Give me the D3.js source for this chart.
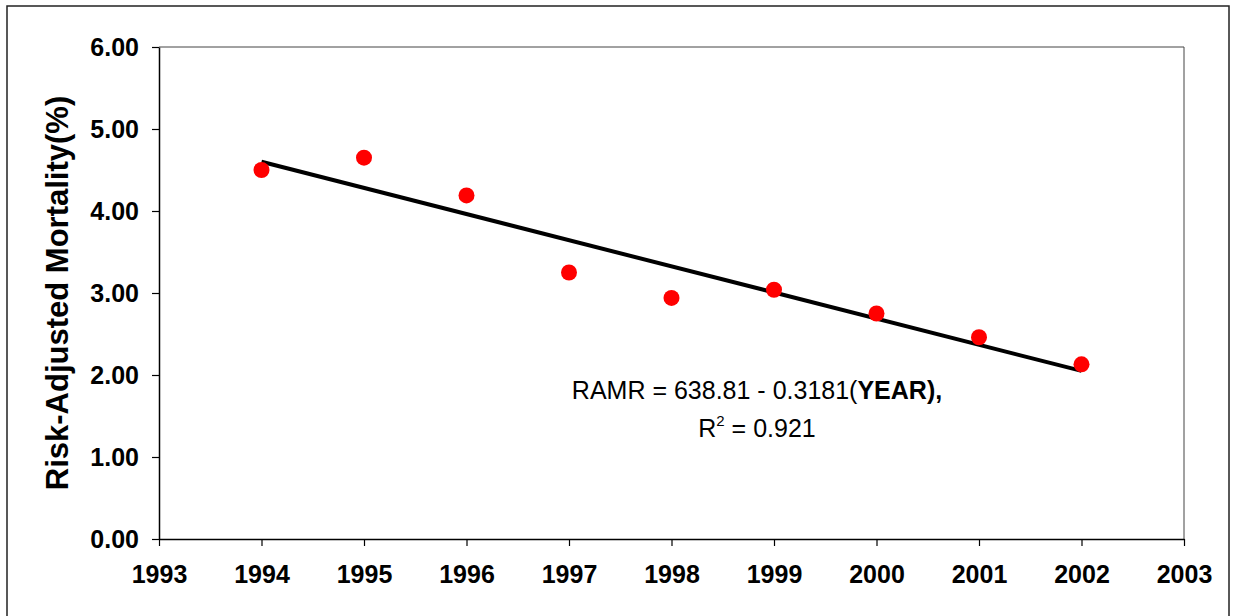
<!DOCTYPE html>
<html>
<head>
<meta charset="utf-8">
<script src="https://cdn.jsdelivr.net/npm/d3@7"></script>
<style>
  html, body { margin: 0; padding: 0; background: #fff; }
  svg { display: block; font-family: Arial, "Liberation Sans", sans-serif; }
</style>
</head>
<body>
<script>
// data
const years = [1994, 1995, 1996, 1997, 1998, 1999, 2000, 2001, 2002];
const mortality = [4.50, 4.65, 4.19, 3.25, 2.94, 3.04, 2.75, 2.46, 2.13];
const trendYears = [1994, 2002];
const trendValues = [4.60, 2.05];
const xTicks = [1993, 1994, 1995, 1996, 1997, 1998, 1999, 2000, 2001, 2002, 2003];
const yTicks = [0, 1, 2, 3, 4, 5, 6];

const width = 1235;
const height = 616;
const margin = { top: 47, right: 51, bottom: 77, left: 159 };
const innerW = width - margin.left - margin.right;
const innerH = height - margin.top - margin.bottom;

const svg = d3.select("body")
  .append("svg")
  .attr("width", width)
  .attr("height", height);

// outer frame
svg.append("rect")
  .attr("x", 7).attr("y", 6)
  .attr("width", 1222).attr("height", 640)
  .attr("fill", "none")
  .attr("stroke", "#222")
  .attr("stroke-width", 1.5);

const g = svg.append("g")
  .attr("transform", `translate(${margin.left},${margin.top})`);

const x = d3.scaleLinear().domain([1993, 2003]).range([0, innerW]);
const y = d3.scaleLinear().domain([0, 6]).range([innerH, 0]);

// top / right border of plot area
g.append("path")
  .attr("d", `M0,0H${innerW}V${innerH}`)
  .attr("fill", "none")
  .attr("stroke", "#444")
  .attr("stroke-width", 1);

const xAxis = g.append("g")
  .attr("transform", `translate(0,${innerH})`)
  .call(d3.axisBottom(x).tickValues(xTicks).tickFormat(d3.format("d")).tickSize(7).tickSizeOuter(0));

const yAxis = g.append("g")
  .call(d3.axisLeft(y).tickValues(yTicks).tickFormat(d3.format(".2f")).tickSize(7).tickSizeOuter(0));

[xAxis, yAxis].forEach(a => {
  a.select(".domain").attr("stroke", "#000").attr("stroke-width", 1.5);
  a.selectAll(".tick line").attr("stroke", "#000").attr("stroke-width", 1.2);
  a.selectAll(".tick text")
    .attr("fill", "#000")
    .style("font-size", "25px")
    .style("font-weight", "bold")
    .style("font-family", "Arial, 'Liberation Sans', sans-serif");
});
xAxis.selectAll(".tick text").attr("y", 26).attr("dy", "0.71em");
yAxis.selectAll(".tick text").attr("x", -20);

// y axis title
svg.append("text")
  .attr("transform", "translate(68,293) rotate(-90)")
  .attr("text-anchor", "middle")
  .style("font-size", "31px")
  .style("font-weight", "bold")
  .text("Risk-Adjusted Mortality(%)");

// trend line
g.append("line")
  .attr("x1", x(trendYears[0])).attr("y1", y(trendValues[0]))
  .attr("x2", x(trendYears[1])).attr("y2", y(trendValues[1]))
  .attr("stroke", "#000")
  .attr("stroke-width", 4);

// points
g.selectAll("circle")
  .data(years.map((d, i) => ({ year: d, value: mortality[i] })))
  .enter()
  .append("circle")
  .attr("cx", d => x(d.year))
  .attr("cy", d => y(d.value))
  .attr("r", 8)
  .attr("fill", "#ff0000");

// equation annotation
const eq = svg.append("text")
  .attr("x", 757).attr("y", 399)
  .attr("text-anchor", "middle")
  .style("font-size", "25px");
eq.append("tspan").text("RAMR = 638.81 - 0.3181(");
eq.append("tspan").style("font-weight", "bold").text("YEAR),");

const r2 = svg.append("text")
  .attr("x", 757).attr("y", 437)
  .attr("text-anchor", "middle")
  .style("font-size", "25px");
r2.append("tspan").text("R");
r2.append("tspan").attr("dy", -11).style("font-size", "15px").text("2");
r2.append("tspan").attr("dy", 11).text(" = 0.921");
</script>
</body>
</html>
